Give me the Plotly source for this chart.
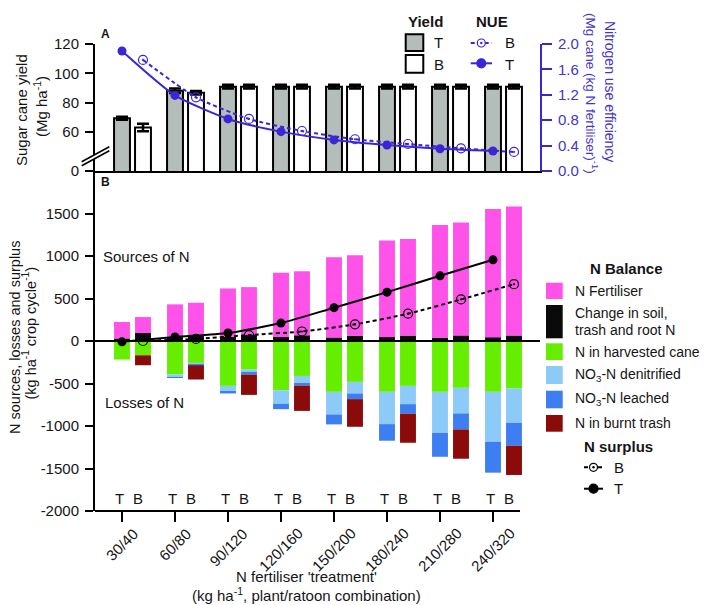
import plotly.graph_objects as go

# ---------------- data ----------------
treatments = ["30/40", "60/80", "90/120", "120/160", "150/200", "180/240", "210/280", "240/320"]
group_pos = [0, 1, 2, 3, 4, 5, 6, 7]
b_offset = 0.396

# Panel A
yield_T = [69.5, 88.2, 91.0, 91.0, 91.0, 91.0, 91.0, 91.0]
yield_T_err = [1.0, 1.5, 1.2, 1.2, 1.2, 1.2, 1.2, 1.2]
yield_B = [63.2, 86.8, 91.0, 91.0, 91.0, 91.0, 91.0, 91.0]
yield_B_err = [2.5, 1.2, 1.2, 1.2, 1.2, 1.2, 1.2, 1.2]
nue_T = [1.89, 1.19, 0.82, 0.62, 0.49, 0.41, 0.35, 0.315]
nue_B = [1.75, 1.16, 0.82, 0.63, 0.50, 0.425, 0.357, 0.30]

# Panel B (kg N / ha / crop cycle)
change_T = [30, 52, 50, 48, 42, 46, 40, 45]
fert_T = [193, 379, 568, 755, 944, 1136, 1326, 1509]
cane_T = [-218, -395, -528, -579, -598, -598, -598, -598]
denit_T = [0, -30, -66, -160, -266, -380, -482, -587]
leach_T = [0, -5, -23, -63, -117, -195, -282, -364]
burnt_T = [0, 0, 0, 0, 0, 0, 0, 0]

change_B = [94, 75, 70, 67, 63, 64, 66, 65]
fert_B = [188, 375, 564, 755, 946, 1136, 1329, 1516]
cane_B = [-168, -258, -336, -411, -481, -528, -551, -559]
denit_B = [0, -24, -39, -82, -136, -215, -301, -403]
leach_B = [0, -4, -20, -31, -67, -112, -188, -270]
burnt_B = [-117, -167, -239, -298, -325, -342, -345, -344]

surplus_T = [-10, 47, 94, 211, 392, 575, 767, 955]
surplus_B = [0, 25, 70, 112, 196, 321, 489, 669]

# ---------------- styling ----------------
FONT = "Liberation Sans, Arial, sans-serif"
NUE_COL = "#3A26D4"
NUE_TXT = "#4536C8"
C_FERT = "#FF52E8"
C_CHANGE = "#0A0A0A"
C_CANE = "#66EE00"
C_DENIT = "#8CCBF8"
C_LEACH = "#3D7EF2"
C_BURNT = "#8B0A0A"
C_GREY = "#B5BDBB"

OFF = 8                      # page body margin
W, H = 708 - OFF, 605 - OFF  # figure size
L, R, T, B = 95, 540, 44, 511  # plot area in page pixels


def px_x(p):
    return (p - L) / (R - L)


def px_y(p):
    return (B - p) / (B - T)


x_T = [g for g in group_pos]
x_B = [g + b_offset for g in group_pos]
x_all = x_T + x_B
bw = 0.30

fig = go.Figure()

# ---- Panel B: N balance bars ----
for name, vt, vb, col in [
    ("Change in soil, trash and root N", change_T, change_B, C_CHANGE),
    ("N Fertiliser", fert_T, fert_B, C_FERT),
    ("N in harvested cane", cane_T, cane_B, C_CANE),
    ("NO3-N denitrified", denit_T, denit_B, C_DENIT),
    ("NO3-N leached", leach_T, leach_B, C_LEACH),
    ("N in burnt trash", burnt_T, burnt_B, C_BURNT),
]:
    fig.add_trace(go.Bar(x=x_all, y=vt + vb, width=bw, name=name,
                         marker=dict(color=col, line=dict(width=0)),
                         xaxis="x", yaxis="y", showlegend=False))

fig.add_trace(go.Scatter(x=x_B, y=surplus_B, mode="lines+markers", xaxis="x", yaxis="y",
                         line=dict(color="black", width=2, dash="4px,3px", shape="spline", smoothing=0.6),
                         marker=dict(symbol="circle-open-dot", size=9, color="black", line=dict(width=1.2)),
                         showlegend=False))
fig.add_trace(go.Scatter(x=x_T, y=surplus_T, mode="lines+markers", xaxis="x", yaxis="y",
                         line=dict(color="black", width=2, shape="spline", smoothing=0.6),
                         marker=dict(symbol="circle", size=9, color="black"),
                         showlegend=False))

# ---- Panel A: yield bars ----
fig.add_trace(go.Bar(x=x_T, y=yield_T, width=bw, xaxis="x2", yaxis="y2",
                     marker=dict(color=C_GREY, line=dict(color="black", width=2)),
                     error_y=dict(type="data", array=yield_T_err, color="black", thickness=2.5, width=6),
                     showlegend=False))
fig.add_trace(go.Bar(x=x_B, y=yield_B, width=bw, xaxis="x2", yaxis="y2",
                     marker=dict(color="white", line=dict(color="black", width=2)),
                     error_y=dict(type="data", array=yield_B_err, color="black", thickness=2.5, width=6),
                     showlegend=False))

# ---- Panel A: NUE lines ----
fig.add_trace(go.Scatter(x=x_B, y=nue_B, mode="lines+markers", xaxis="x2", yaxis="y3",
                         line=dict(color=NUE_COL, width=2, dash="4px,3px", shape="spline", smoothing=0.6),
                         marker=dict(symbol="circle-open-dot", size=9, color=NUE_COL, line=dict(width=1.2)),
                         showlegend=False))
fig.add_trace(go.Scatter(x=x_T, y=nue_T, mode="lines+markers", xaxis="x2", yaxis="y3",
                         line=dict(color=NUE_COL, width=2, shape="spline", smoothing=0.6),
                         marker=dict(symbol="circle", size=9, color=NUE_COL),
                         showlegend=False))

x_range = [(L - 122) / 53.0, (R - 122) / 53.0]
split = px_y(171)

fig.update_layout(
    width=W, height=H,
    margin=dict(l=L - OFF, r=W - (R - OFF), t=T - OFF, b=H - (B - OFF), pad=0),
    paper_bgcolor="white", plot_bgcolor="rgba(0,0,0,0)",
    template="none",
    barmode="relative",
    font=dict(family=FONT, size=15, color="#151515"),
    showlegend=False,
    xaxis=dict(domain=[0, 1], anchor="y", range=x_range, showgrid=False, zeroline=False,
               showline=False, ticks="outside", ticklen=10, tickwidth=2, tickcolor="black",
               tickvals=group_pos, ticktext=["" for _ in treatments], automargin=False),
    xaxis2=dict(domain=[0, 1], anchor="y2", matches="x", range=x_range, showgrid=False,
                zeroline=False, showline=True, linecolor="black", linewidth=2,
                showticklabels=False, ticks="", automargin=False),
    yaxis=dict(domain=[0, split], anchor="x", range=[-2000, 2000], showgrid=False, zeroline=False,
               showline=True, linecolor="black", linewidth=2, ticks="outside", ticklen=8,
               tickwidth=2, tickcolor="black",
               tickvals=[-2000, -1500, -1000, -500, 0, 500, 1000, 1500],
               ticktext=["-2000", "-1500", "-1000", "-500", "0", "500", "1000", "1500"],
               ticklabelstandoff=3, automargin=False),
    yaxis2=dict(domain=[split, 1], anchor="x2", range=[33.6, 120], showgrid=False, zeroline=False,
                showline=True, linecolor="black", linewidth=2, ticks="outside", ticklen=8,
                tickwidth=2, tickcolor="black",
                tickvals=[33.6, 60, 80, 100, 120], ticktext=["0", "60", "80", "100", "120"],
                ticklabelstandoff=3, automargin=False),
    yaxis3=dict(overlaying="y2", anchor="x2", side="right", range=[0, 2], showgrid=False,
                zeroline=False, showline=True, linecolor=NUE_COL, linewidth=2, ticks="outside",
                ticklen=10, tickwidth=2, tickcolor=NUE_COL,
                tickvals=[0, 0.4, 0.8, 1.2, 1.6, 2.0],
                ticktext=["0.0", "0.4", "0.8", "1.2", "1.6", "2.0"],
                tickfont=dict(color=NUE_TXT, size=15), ticklabelstandoff=3, automargin=False),
)

shapes = []
annos = []

# zero line and shortened bottom axis line
shapes.append(dict(type="line", xref="paper", yref="y", x0=0, x1=1, y0=0, y1=0,
                   line=dict(color="black", width=2), layer="above"))
shapes.append(dict(type="line", xref="x", yref="paper", x0=x_range[0], x1=(520 - 122) / 53.0,
                   y0=0, y1=0, line=dict(color="black", width=2), layer="above"))

# axis break marks on panel A
x1b, x2b = px_x(81.7), px_x(109.3)
shapes.append(dict(type="path", xref="paper", yref="paper",
                   path=f"M {x1b} {px_y(165.7)} L {x2b} {px_y(150.7)} L {x2b} {px_y(146.7)} L {x1b} {px_y(161.7)} Z",
                   fillcolor="white", line=dict(width=0), layer="above"))
for off in (0, -4):
    shapes.append(dict(type="line", xref="paper", yref="paper",
                       x0=x1b, y0=px_y(165.7 + off), x1=x2b, y1=px_y(150.7 + off),
                       line=dict(color="black", width=1.6), layer="above"))


def text(x, y, s, size=15, color="#151515", xanchor="center", yanchor="middle", angle=0,
         xref="paper", yref="paper", bold=False):
    if bold:
        s = "<b>" + s + "</b>"
    annos.append(dict(x=x, y=y, xref=xref, yref=yref, text=s, showarrow=False,
                      font=dict(family=FONT, size=size, color=color), align="center",
                      xanchor=xanchor, yanchor=yanchor, textangle=angle))


# x tick labels (rotated)
for g, t in zip(group_pos, treatments):
    annos.append(dict(x=g, y=px_y(522), xref="x", yref="paper", text=t, showarrow=False,
                      font=dict(family=FONT, size=15, color="#151515"),
                      xanchor="center", yanchor="top", textangle=-45))
    text(g - 0.04, -1850, "T", xref="x", yref="y")
    text(g + 0.30, -1850, "B", xref="x", yref="y")

# panel letters and inner texts
text(px_x(105), px_y(34), "A", size=12, bold=True)
text(px_x(105), px_y(182), "B", size=12, bold=True)
text(px_x(101), px_y(256), "Sources of N", xanchor="left")
text(px_x(103), px_y(402), "Losses of N", xanchor="left")

# axis titles (one annotation per line for exact placement)
text(px_x(22), px_y(110), "Sugar cane yield", angle=-90)
text(px_x(40), px_y(107), "(Mg ha<sup>-1</sup>)", angle=-90)
text(px_x(15), px_y(338), "N sources, losses and surplus", angle=-90, size=14.5)
text(px_x(29.5), px_y(333), "(kg ha<sup>-1</sup> crop cycle<sup>-1</sup>)", angle=-90, size=14.5)
text(px_x(610), px_y(91), "Nitrogen use efficiency", angle=90, size=14, color=NUE_TXT)
text(px_x(592), px_y(93), "(Mg cane (kg N fertiliser)<sup>-1</sup>)", angle=90, size=13.5, color=NUE_TXT)
text(px_x(306), px_y(576), "N fertiliser 'treatment'")
text(px_x(306), px_y(594), "(kg ha<sup>-1</sup>, plant/ratoon combination)")


def rect(x0, x1, y0, y1, fill, line_col=None, lw=0):
    shapes.append(dict(type="rect", xref="paper", yref="paper",
                       x0=px_x(x0), x1=px_x(x1), y0=px_y(y1), y1=px_y(y0),
                       fillcolor=fill, line=dict(color=line_col or fill, width=lw), layer="above"))


def hline(x0, x1, y, col, dash=None):
    ln = dict(color=col, width=2)
    if dash:
        ln["dash"] = dash
    shapes.append(dict(type="line", xref="paper", yref="paper", x0=px_x(x0), x1=px_x(x1),
                       y0=px_y(y), y1=px_y(y), line=ln, layer="above"))


def dot(cx, cy, col, r=4.5, open_=False):
    shapes.append(dict(type="circle", xref="paper", yref="paper", xsizemode="pixel", ysizemode="pixel",
                       xanchor=px_x(cx), yanchor=px_y(cy), x0=-r, x1=r, y0=-r, y1=r,
                       fillcolor="white" if open_ else col, line=dict(color=col, width=1.2), layer="above"))
    if open_:
        shapes.append(dict(type="circle", xref="paper", yref="paper", xsizemode="pixel", ysizemode="pixel",
                           xanchor=px_x(cx), yanchor=px_y(cy), x0=-1.2, x1=1.2, y0=-1.2, y1=1.2,
                           fillcolor=col, line=dict(color=col, width=0), layer="above"))


# Yield legend
text(px_x(425), px_y(21), "Yield", bold=True)
rect(405.7, 423.3, 34.3, 51, C_GREY, "black", 2)
rect(405.7, 423.3, 55, 72.7, "white", "black", 2)
text(px_x(432), px_y(42.5), "T", xanchor="left")
text(px_x(432), px_y(64), "B", xanchor="left")

# NUE legend
text(px_x(492), px_y(21), "NUE", bold=True)
hline(470.7, 492, 43, NUE_COL, dash="4px,3px")
dot(481.3, 43, NUE_COL, r=4, open_=True)
hline(470.7, 492, 63.3, NUE_COL)
dot(481.3, 63.3, NUE_COL, r=4.5)
text(px_x(503), px_y(42.5), "B", xanchor="left")
text(px_x(503), px_y(64), "T", xanchor="left")

# N Balance legend
LS = 14
text(px_x(626), px_y(268.3), "N Balance", bold=True)
lx = 573.3
rect(546, 562.7, 282.7, 299, C_FERT)
text(px_x(lx), px_y(291), "N Fertiliser", xanchor="left", size=LS)
rect(546, 562.7, 305, 338.3, C_CHANGE)
text(px_x(lx), px_y(313.3), "Change in soil,", xanchor="left", size=LS)
text(px_x(lx), px_y(330), "trash and root N", xanchor="left", size=LS)
rect(546, 562.7, 343.3, 360, C_CANE)
text(px_x(lx), px_y(351.7), "N in harvested cane", xanchor="left", size=LS)
rect(546, 562.7, 366, 384, C_DENIT)
text(px_x(lx), px_y(375), "NO<sub>3</sub>-N denitrified", xanchor="left", size=LS)
rect(546, 562.7, 390.7, 408.3, C_LEACH)
text(px_x(lx), px_y(399), "NO<sub>3</sub>-N leached", xanchor="left", size=LS)
rect(546, 562.7, 415, 431.7, C_BURNT)
text(px_x(lx), px_y(423.3), "N in burnt trash", xanchor="left", size=LS)

# N surplus legend
text(px_x(618), px_y(446.7), "N surplus", bold=True)
hline(584, 603, 467.3, "black", dash="4px,3px")
dot(593.5, 467.3, "black", r=4, open_=True)
hline(584, 603, 488.7, "black")
dot(593.5, 488.7, "black", r=4.5)
text(px_x(612), px_y(467.3), "B", xanchor="left")
text(px_x(612), px_y(488.7), "T", xanchor="left")

fig.update_layout(shapes=shapes, annotations=annos)
fig.write_html("out.html")
